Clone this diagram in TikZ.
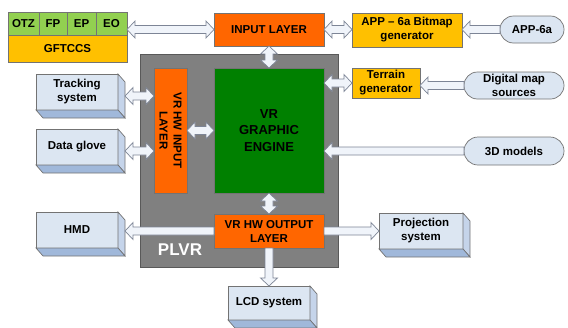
\documentclass[tikz,border=0pt]{standalone}
\usepackage{fontspec}
\setmainfont{Liberation Sans}
\usetikzlibrary{positioning,calc,shapes.misc}
\definecolor{narancs}{RGB}{255,102,0}
\definecolor{sarga}{RGB}{255,192,0}
\definecolor{vilzold}{RGB}{146,208,80}
\definecolor{sotzold}{RGB}{0,128,0}
\definecolor{szurke}{RGB}{128,128,128}
\definecolor{kek}{RGB}{220,230,242}
\definecolor{kekold}{RGB}{197,212,234}
\definecolor{kekalj}{RGB}{160,184,218}
\definecolor{nyilvonal}{RGB}{125,133,150}
\definecolor{nyilbel}{RGB}{240,244,250}
\tikzset{
  alap/.style={draw=black!55,line width=0.7pt,inner sep=2pt,outer sep=0pt,align=center,
               font=\fontsize{11.5}{14}\selectfont\bfseries},
  reteg/.style={alap,fill=narancs,minimum width=110pt,minimum height=33pt},
  gen/.style={alap,fill=sarga},
  cella/.style={alap,fill=vilzold,minimum height=23pt},
  motor/.style={alap,fill=sotzold,minimum width=110pt,minimum height=125pt,
                font=\fontsize{13}{16.5}\selectfont\bfseries},
  doboz/.style={alap,fill=kek,minimum width=82pt,minimum height=36pt},
  kapszula/.style={alap,rounded rectangle,fill=kek,minimum height=27pt},
  keret/.style={draw=black!65,line width=0.8pt,fill=szurke,outer sep=0pt},
  oldal/.style={draw=black!55,line width=0.7pt,fill=kekold},
  alja/.style={draw=black!55,line width=0.7pt,fill=kekalj},
  vastagnyil/.style={draw=nyilvonal,fill=nyilbel,line width=0.7pt,to path={
    let \p1=(\tikztostart),\p2=(\tikztotarget),\n1={atan2(\y2-\y1,\x2-\x1)} in
    ($(\p1)+(\n1+90:4pt)$) -- ($(\p2)+(\n1+180:8pt)+(\n1+90:4pt)$)
    -- ($(\p2)+(\n1+180:8pt)+(\n1+90:8.5pt)$) -- (\p2)
    -- ($(\p2)+(\n1+180:8pt)+(\n1-90:8.5pt)$) -- ($(\p2)+(\n1+180:8pt)+(\n1-90:4pt)$)
    -- ($(\p1)+(\n1-90:4pt)$) -- cycle}},
  kettosnyil/.style={draw=nyilvonal,fill=nyilbel,line width=0.7pt,to path={
    let \p1=(\tikztostart),\p2=(\tikztotarget),\n1={atan2(\y2-\y1,\x2-\x1)} in
    (\p1) -- ($(\p1)+(\n1:8pt)+(\n1+90:8.5pt)$) -- ($(\p1)+(\n1:8pt)+(\n1+90:4pt)$)
    -- ($(\p2)+(\n1+180:8pt)+(\n1+90:4pt)$) -- ($(\p2)+(\n1+180:8pt)+(\n1+90:8.5pt)$)
    -- (\p2) -- ($(\p2)+(\n1+180:8pt)+(\n1-90:8.5pt)$) -- ($(\p2)+(\n1+180:8pt)+(\n1-90:4pt)$)
    -- ($(\p1)+(\n1:8pt)+(\n1-90:4pt)$) -- ($(\p1)+(\n1:8pt)+(\n1-90:8.5pt)$) -- cycle}},
}
\newcommand\kockaoldal[1]{%
  \draw[oldal] (#1.north east) -- ++(7,8) -- ($(#1.south east)+(7,8)$) -- (#1.south east) -- cycle;
  \draw[alja] (#1.south west) -- (#1.south east) -- ++(7,8) -- ($(#1.south west)+(7,8)$) -- cycle;}

\begin{document}
\begin{tikzpicture}[x=1pt,y=-1pt]
  \useasboundingbox (0,0) rectangle (568,327);
  \node[keret,minimum width=198pt,minimum height=213pt] (plvr) at (239,160.5) {};
  \node[font=\fontsize{17}{20}\selectfont\bfseries,text=white,inner sep=0pt] (plvrfelirat) at (180,250) {PLVR};

  \node[cella,minimum width=31pt,anchor=north west] (otz) at (8,12) {OTZ};
  \node[cella,minimum width=28pt,right=0pt of otz] (fp) {FP};
  \node[cella,minimum width=29pt,right=0pt of fp] (ep) {EP};
  \node[cella,minimum width=31pt,right=0pt of ep] (eo) {EO};
  \node[gen,minimum width=119pt,minimum height=27pt,anchor=north west] (gft) at (otz.south west) {GFTCCS};

  \node[reteg] (inp) at (269,29.5) {INPUT LAYER};
  \node[gen,minimum width=110pt,minimum height=34pt] (app) at (407,30) {APP – 6a Bitmap\\generator};
  \node[kapszula,minimum width=68pt] (appsrc) at (532,29.5) {APP-6a};
  \node[gen,minimum width=68pt,minimum height=30pt] (ter) at (386,83) {Terrain\\generator};
  \node[kapszula,minimum width=104pt] (dig) at (514,85.5) {Digital map\\sources};
  \node[kapszula,minimum width=104pt,minimum height=28pt] (mod) at (514,151) {3D models};

  \node[reteg,rotate=-90,minimum width=125pt,minimum height=33pt] (hwin) at (170.5,130.5) {VR HW INPUT\\LAYER};
  \node[motor] (eng) at (269,130.5) {VR\\GRAPHIC\\ENGINE};
  \node[reteg,minimum height=34pt] (out) at (269,231) {VR HW OUTPUT\\LAYER};

  \node[doboz] (trk) at (77,92) {Tracking\\system};
  \node[doboz] (glv) at (77,147) {Data glove};
  \node[doboz] (hmd) at (77,230) {HMD};
  \node[doboz,minimum width=84pt] (proj) at (421,231) {Projection\\system};
  \node[doboz,minimum height=34pt] (lcd) at (269,303) {LCD system};
  \kockaoldal{trk} \kockaoldal{glv} \kockaoldal{hmd} \kockaoldal{proj} \kockaoldal{lcd}

  \coordinate (trk-o) at ($(trk.east)+(7,4)$);
  \coordinate (glv-o) at ($(glv.east)+(7,4)$);
  \draw[kettosnyil] (eo.east |- inp.west) to (inp.west);
  \draw[kettosnyil] (inp.east) to (app.west |- inp.east);
  \draw[vastagnyil] (appsrc.west) to (app.east |- appsrc.west);
  \draw[kettosnyil] (eng.east |- ter.west) to (ter.west);
  \draw[vastagnyil] (dig.west) to (ter.east |- dig.west);
  \draw[vastagnyil] (mod.west) to (eng.east |- mod.west);
  \draw[kettosnyil] (inp.south) to (eng.north);
  \draw[kettosnyil] (eng.south) to (out.north);
  \draw[kettosnyil] (hwin.north) to (eng.west);
  \draw[kettosnyil] (trk-o) to (hwin.south |- trk-o);
  \draw[kettosnyil] (glv-o) to (hwin.south |- glv-o);
  \draw[vastagnyil] (out.west) to ([xshift=7pt]hmd.east |- out.west);
  \draw[vastagnyil] (out.east) to (proj.west |- out.east);
  \draw[vastagnyil] (out.south) to (lcd.north);
\end{tikzpicture}
\end{document}
